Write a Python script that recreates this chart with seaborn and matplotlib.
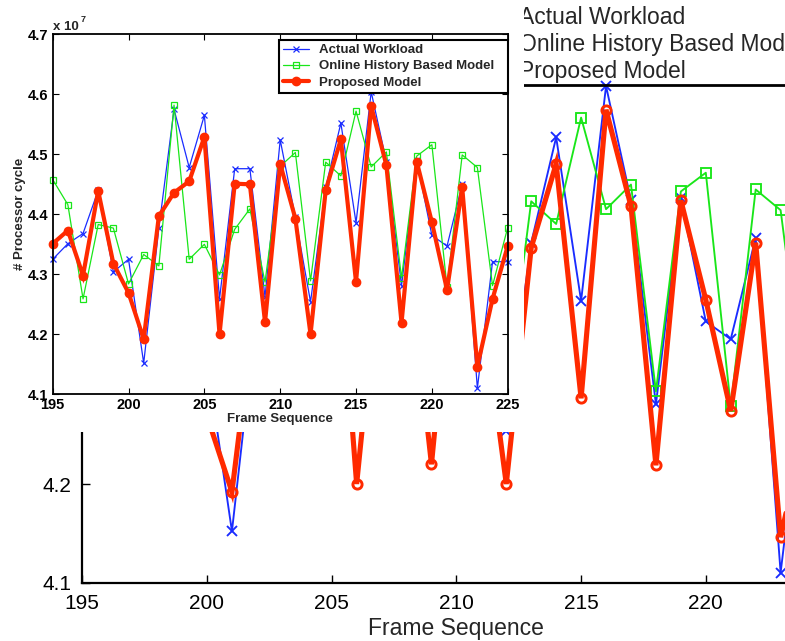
import matplotlib
matplotlib.use("Agg")
import matplotlib.pyplot as plt
from matplotlib.patches import Rectangle
from matplotlib.lines import Line2D
import seaborn as sns

# Frame-by-frame processor cycles (units of 10^7)
frames = list(range(195, 226))
actual_workload = [4.325, 4.351, 4.368, 4.440, 4.304, 4.325, 4.152, 4.377, 4.575, 4.478,
                   4.565, 4.259, 4.476, 4.476, 4.262, 4.524, 4.395, 4.254, 4.445, 4.552,
                   4.386, 4.604, 4.488, 4.281, 4.490, 4.365, 4.347, 4.450, 4.110, 4.321,
                   4.321]
online_history = [4.458, 4.416, 4.259, 4.383, 4.377, 4.284, 4.333, 4.314, 4.582, 4.325,
                  4.350, 4.299, 4.375, 4.409, 4.287, 4.480, 4.503, 4.289, 4.487, 4.464,
                  4.572, 4.479, 4.504, 4.294, 4.497, 4.516, 4.279, 4.499, 4.478, 4.281,
                  4.378]
proposed_model = [4.351, 4.373, 4.298, 4.439, 4.318, 4.269, 4.192, 4.397, 4.436, 4.455,
                  4.529, 4.200, 4.451, 4.450, 4.220, 4.484, 4.393, 4.200, 4.440, 4.525,
                  4.287, 4.580, 4.482, 4.219, 4.488, 4.387, 4.274, 4.445, 4.146, 4.259,
                  4.347]

series_names = ["Actual Workload", "Online History Based Model", "Proposed Model"]
x_ticks = [195, 200, 205, 210, 215, 220, 225]
y_ticks = [4.1, 4.2, 4.3, 4.4, 4.5, 4.6, 4.7]
x_label = "Frame Sequence"
y_label = "# Processor cycle"

BLUE = "#1a2cff"
GREEN = "#19e619"
RED = "#ff2a00"

sns.set_style("ticks")
plt.rcParams["font.family"] = ["Liberation Sans", "DejaVu Sans"]

W, H = 785, 641
fig = plt.figure(figsize=(W / 100, H / 100), dpi=100)


def px_rect(left, top, right, bottom):
    """Convert a pixel box (origin top-left) to figure fractions."""
    return [left / W, 1 - bottom / H, (right - left) / W, (bottom - top) / H]


def draw_series(ax, scale, red_lw, filled, clip):
    sns.lineplot(x=frames, y=actual_workload, ax=ax, color=BLUE, lw=0.9 * scale,
                 marker="x", markersize=4.5 * scale, markeredgewidth=0.9 * scale,
                 markeredgecolor=BLUE, label=series_names[0], legend=False,
                 clip_on=clip)
    sns.lineplot(x=frames, y=online_history, ax=ax, color=GREEN, lw=0.9 * scale,
                 marker="s", markersize=4.6 * scale, markeredgewidth=0.9 * scale,
                 markeredgecolor=GREEN, markerfacecolor="none",
                 label=series_names[1], legend=False, clip_on=clip)
    sns.lineplot(x=frames, y=proposed_model, ax=ax, color=RED, lw=red_lw,
                 marker="o", markersize=(5.8 if filled else 4.4) * scale,
                 markeredgewidth=(1.2 if filled else 1.4) * scale,
                 markeredgecolor=RED,
                 markerfacecolor=RED if filled else "none",
                 solid_joinstyle="miter", label=series_names[2], legend=False,
                 clip_on=clip)


# ---- enlarged view (drawn first, underneath) ----
ax_big = fig.add_axes(px_rect(82.3, -8.5, 830.5, 582.5), zorder=0)
draw_series(ax_big, 1.5, 3.7, filled=False, clip=True)
ax_big.set_xlim(195, 225)
ax_big.set_ylim(4.1, 4.7)
ax_big.set_xticks(x_ticks)
ax_big.set_yticks(y_ticks)
ax_big.set_xticklabels([str(v) for v in x_ticks])
ax_big.set_yticklabels([f"{v:.1f}" for v in y_ticks])
ax_big.tick_params(direction="in", length=6, width=1.0, labelsize=15, pad=8,
                   colors="black", top=False, right=False)
for s in ax_big.spines.values():
    s.set_linewidth(1.6)
    s.set_color("black")
ax_big.set_xlabel(x_label, fontsize=16.5)
ax_big.xaxis.set_label_coords(0.5, -0.059)
ax_big.legend(loc="lower left", bbox_to_anchor=(455 / W, 1 - 83 / H),
              bbox_transform=fig.transFigure, fontsize=16.5, frameon=False,
              borderpad=0, labelspacing=0.17, handlelength=2.0,
              handletextpad=0.8, borderaxespad=0)
# lower edge of the enlarged legend box
ax_big.add_line(Line2D([455 / W, 850 / W], [1 - 85 / H, 1 - 85 / H],
                       transform=fig.transFigure, color="black", lw=2.0,
                       clip_on=False))

# ---- white panel carrying the full-range chart ----
fig.add_artist(Rectangle((0, 1 - 432 / H), 524 / W, 432 / H,
                         transform=fig.transFigure, facecolor="white",
                         edgecolor="none", zorder=1))

ax = fig.add_axes(px_rect(52.7, 34.3, 507.7, 394.3), zorder=2)
ax.set_facecolor("white")
draw_series(ax, 1.0, 3.0, filled=True, clip=False)
ax.set_xlim(195, 225)
ax.set_ylim(4.1, 4.7)
ax.set_xticks(x_ticks)
ax.set_yticks(y_ticks)
ax.set_xticklabels([str(v) for v in x_ticks], fontweight="bold")
ax.set_yticklabels([f"{v:.1f}" for v in y_ticks], fontweight="bold")
ax.tick_params(direction="in", length=4.5, width=0.8, labelsize=10.5, pad=3,
               colors="black", top=True, right=True)
for s in ax.spines.values():
    s.set_linewidth(1.3)
    s.set_color("black")
ax.set_xlabel(x_label, fontsize=9.5, fontweight="bold")
ax.xaxis.set_label_coords(0.5, -0.052)
ax.set_ylabel(y_label, fontsize=9.5, fontweight="bold")
ax.yaxis.set_label_coords(-0.058, 0.5)
leg = ax.legend(loc="upper left", mode="expand",
                bbox_to_anchor=(279 / W, 1 - 40 / H, 229 / W, 0),
                bbox_transform=fig.transFigure,
                prop={"size": 9.5, "weight": "bold"},
                borderpad=0.3, labelspacing=0.3, handlelength=2.0,
                handletextpad=0.73, borderaxespad=0, fancybox=False,
                framealpha=1, edgecolor="black")
leg.get_frame().set_linewidth(1.5)
leg.set_zorder(5)

# axis multiplier
fig.text(53 / W, 1 - 27 / H, "x 10", fontsize=9.5, fontweight="bold",
         ha="left", va="center", zorder=3)
fig.text(80.5 / W, 1 - 20 / H, "7", fontsize=6.5, fontweight="bold",
         ha="left", va="center", zorder=3)

fig.savefig("out.png", dpi=100, facecolor="white")
